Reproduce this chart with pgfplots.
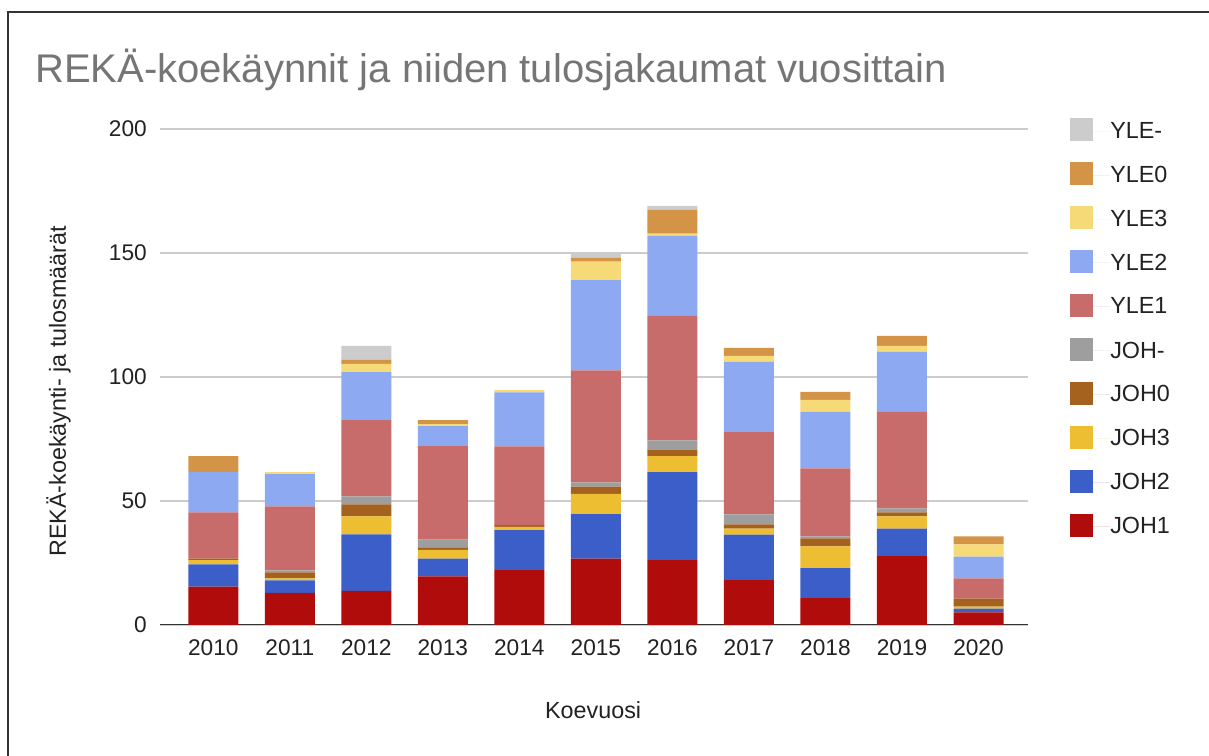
\documentclass[border=0pt]{standalone}
\usepackage{pgfplots}
\pgfplotsset{compat=1.18}
\usepackage{pgfplotstable}
\usepackage{fontspec}
\setmainfont{Liberation Sans}
\definecolor{cJOHa}{RGB}{177,12,12}
\definecolor{cJOHb}{RGB}{60,94,201}
\definecolor{cJOHc}{RGB}{237,190,50}
\definecolor{cJOHd}{RGB}{165,97,30}
\definecolor{cJOHe}{RGB}{158,158,158}
\definecolor{cYLEa}{RGB}{200,107,107}
\definecolor{cYLEb}{RGB}{140,169,242}
\definecolor{cYLEc}{RGB}{246,218,120}
\definecolor{cYLEd}{RGB}{212,148,71}
\definecolor{cYLEe}{RGB}{204,204,204}
\definecolor{titlegray}{RGB}{117,117,117}
\definecolor{textdark}{RGB}{34,34,34}
\definecolor{gridgray}{RGB}{204,204,204}
\definecolor{basegray}{RGB}{51,51,51}
\definecolor{framegray}{RGB}{51,51,51}

\pgfplotstableread{
x JOH1 JOH2 JOH3 JOH0 JOHm YLE1 YLE2 YLE3 YLE0 YLEm
0  15.5 8.9  1.8 0.6 0   18.6 16.2 0   6.5 0
1  13.0 5.0  0.8 2.4 0.8 25.8 13.0 0.8 0   0
2  13.8 22.7 7.3 4.8 3.3 30.7 19.4 3.3 1.6 5.6
3  19.6 7.2  3.5 0.8 3.3 37.7 8.1  0.8 1.6 0
4  22.1 16.2 1.3 0.8 0   31.6 21.8 0.9 0   0
5  26.8 17.9 8.2 2.9 1.7 45.2 36.4 7.4 1.6 1.8
6  26.2 35.4 6.5 2.4 3.9 50.2 32.3 0.9 9.6 1.6
7  18.1 18.3 2.5 1.7 4.0 33.2 28.3 2.4 3.2 0
8  10.8 12.1 8.8 3.2 0.8 27.5 22.7 4.9 3.2 0
9  27.8 11.1 4.9 1.6 1.6 38.9 24.2 2.4 4.1 0
10 5.1  1.5  0.8 3.2 0   8.2  8.8  4.9 3.2 0
}\data

\begin{document}
\begin{tikzpicture}
\path[use as bounding box, fill=white] (0,0) rectangle (906.75pt,567pt);
\draw[line width=1.2pt, color=framegray] (6pt,0) -- (6pt,558pt) -- (906.75pt,558pt);
\node[anchor=base west, font=\fontsize{30}{36}\selectfont, text=titlegray, inner sep=0pt]
  at (26.25pt,504.75pt) {REKÄ-koekäynnit ja niiden tulosjakaumat vuosittain};
\begin{axis}[
  at={(120pt,98.25pt)}, anchor=south west,
  scale only axis, width=651pt, height=372pt,
  ybar stacked, bar width=37.5pt,
  xmin=-0.696, xmax=10.647, ymin=0, ymax=200,
  enlargelimits=false,
  xtick={0,1,2,3,4,5,6,7,8,9,10},
  xticklabels={2010,2011,2012,2013,2014,2015,2016,2017,2018,2019,2020},
  ytick={0,50,100,150,200},
  major tick length=0pt,
  axis line style={draw=none},
  ymajorgrids, grid style={line width=1.1pt, color=gridgray},
  /pgf/number format/assume math mode=true,
  tick label style={font=\fontsize{17}{20}\selectfont, text=textdark, inner sep=0pt},
  xticklabel style={anchor=north, yshift=-11pt},
  yticklabel style={anchor=east, xshift=-9.75pt},
  xlabel={Koevuosi},
  ylabel={REKÄ-koekäynti- ja tulosmäärät},
  every axis x label/.style={at={(axis description cs:0.499,-0.171)}, anchor=center,
    font=\fontsize{17.5}{21}\selectfont, text=textdark},
  every axis y label/.style={at={(axis description cs:-0.1083,0.471)}, rotate=90, anchor=base,
    font=\fontsize{17.5}{21}\selectfont, text=textdark},
  reverse legend,
  legend image code/.code={
    \fill[#1] (0pt,-7.55pt) rectangle (17.25pt,9.7pt);
    \path (0pt,0pt) -- (30pt,0pt);
  },
  legend style={at={(axis description cs:1.0484,1.0222)}, anchor=north west,
    draw=none, fill=none, inner sep=0pt, row sep=15.7pt,
    font=\fontsize{17.5}{21}\selectfont, text=textdark,
    nodes={inner sep=0pt}},
  legend cell align=left,
]
\addplot[fill=cJOHa, draw=none] table[x=x, y=JOH1] {\data};
\addplot[fill=cJOHb, draw=none] table[x=x, y=JOH2] {\data};
\addplot[fill=cJOHc, draw=none] table[x=x, y=JOH3] {\data};
\addplot[fill=cJOHd, draw=none] table[x=x, y=JOH0] {\data};
\addplot[fill=cJOHe, draw=none] table[x=x, y=JOHm] {\data};
\addplot[fill=cYLEa, draw=none] table[x=x, y=YLE1] {\data};
\addplot[fill=cYLEb, draw=none] table[x=x, y=YLE2] {\data};
\addplot[fill=cYLEc, draw=none] table[x=x, y=YLE3] {\data};
\addplot[fill=cYLEd, draw=none] table[x=x, y=YLE0] {\data};
\addplot[fill=cYLEe, draw=none] table[x=x, y=YLEm] {\data};
\legend{JOH1,JOH2,JOH3,JOH0,JOH-,YLE1,YLE2,YLE3,YLE0,YLE-}
\draw[line width=1.5pt, color=basegray] (rel axis cs:0,0) -- (rel axis cs:1,0);
\end{axis}
\end{tikzpicture}
\end{document}
